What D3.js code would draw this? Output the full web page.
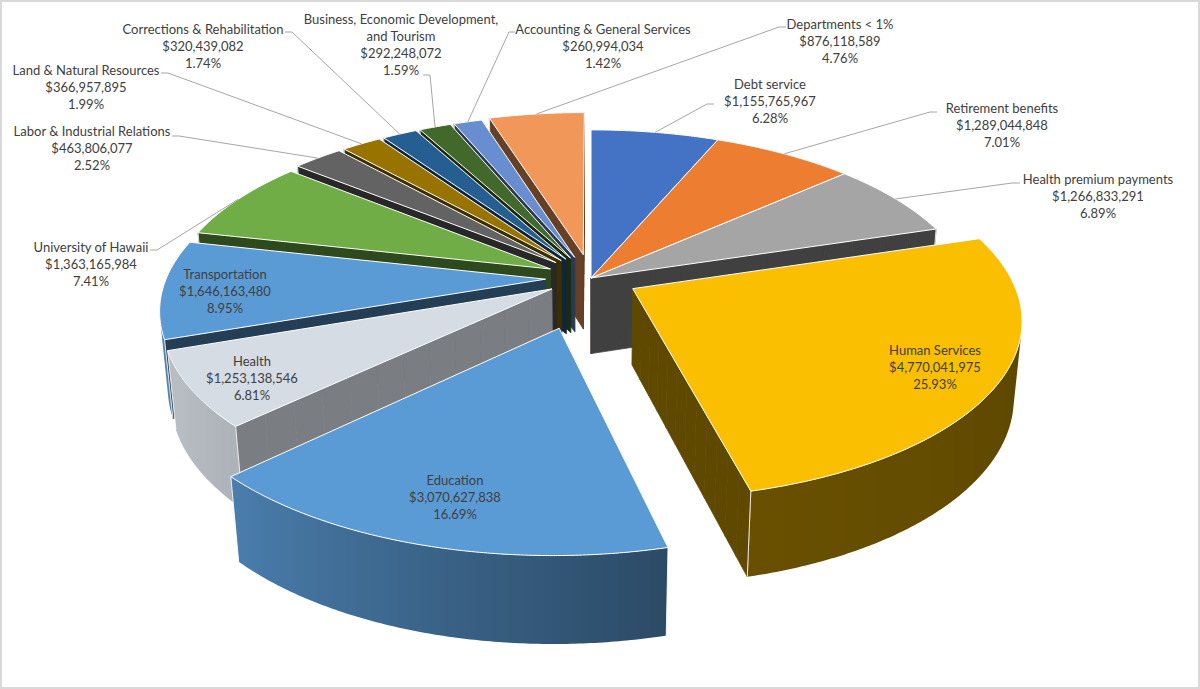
<!DOCTYPE html>
<html><head><meta charset="utf-8">
<script src="https://cdn.jsdelivr.net/npm/d3@7"></script>
<style>body{margin:0;background:#fff}svg{display:block}</style>
</head><body>
<svg id="chart" width="1200" height="689"></svg>
<script>
// ---------- data ----------
const categories = ["Debt service","Retirement benefits","Health premium payments","Human Services","Education","Health","Transportation","University of Hawaii","Labor & Industrial Relations","Land & Natural Resources","Corrections & Rehabilitation","Business, Economic Development, and Tourism","Accounting & General Services","Departments < 1%"];
const amounts = [1155765967,1289044848,1266833291,4770041975,3070627838,1253138546,1646163480,1363165984,463806077,366957895,320439082,292248072,260994034,876118589];
const colors = ["#4472C4","#ED7D31","#A5A5A5","#FABF00","#5B9BD5","#D6DCE4","#5B9BD5","#70AD47","#636363","#997300","#255E91","#43682B","#698ED0","#F1975A"];

// ---------- layout ----------
const explode = [0,0,0,0.125,0.29,0.12,0.12,0.12,0.13,0.13,0.13,0.13,0.13,0.14];
const radialTone = [0.4,0.4,0.39,0.38,0.4,0.57,0.4,0.42,0.4,0.4,0.4,0.4,0.4,0.42];
const sideToneOverride = {3: {domain:[0,100,166,360], range:[0.37,0.37,0.42,0.42]}};
const labelLayout = [
  {x:770,y:84,attach:[714,104],elbow:[707,104]},
  {x:1002,y:108,attach:[937,112],elbow:[930,112]},
  {x:1098,y:179,attach:[1020,183],elbow:[1012,183]},
  {x:935,y:350,inside:true},
  {x:455,y:480,inside:true},
  {x:252,y:361,inside:true},
  {x:225,y:274,inside:true},
  {x:91,y:247,attach:[150,250],elbow:[157,250]},
  {x:92,y:131,attach:[172,136],elbow:[179,136]},
  {x:86,y:70,attach:[161,73],elbow:[168,73]},
  {x:203,y:29,attach:[285,32],elbow:[292,32]},
  {x:401,y:19,attach:[423,75],elbow:[430,75]},
  {x:603,y:29,attach:[515,32],elbow:[509,32]},
  {x:840,y:24,attach:[786,27],elbow:[779,27]}
];
const view = {ox:591, oy:278, f:2085, D:5.5, elev:27, h:0.228};

// ---------- setup ----------
const svg = d3.select("#chart");
const W = 1200, H = 689;
svg.append("rect").attr("x",1).attr("y",1).attr("width",W-2).attr("height",H-2)
  .attr("fill","#fff").attr("stroke","#D9D9D9").attr("stroke-width",2);
const defs = svg.append("defs");

const pie = d3.pie().sort(null).value(d=>d);
const arcs = pie(amounts);
const total = d3.sum(amounts);
const fmtMoney = d3.format("$,");
const fmtPct = d3.format(".2%");

const ca = Math.cos(view.elev*Math.PI/180), sa = Math.sin(view.elev*Math.PI/180);
const cam = [0, -view.D*ca, view.D*sa];
function project(p){
  const depth = view.D + p[1]*ca - p[2]*sa;
  const up = p[1]*sa + p[2]*ca;
  return [view.ox + view.f*p[0]/depth, view.oy - view.f*up/depth];
}
const dist = p => Math.hypot(p[0]-cam[0], p[1]-cam[1], p[2]-cam[2]);
const visible = (n,c) => n[0]*(cam[0]-c[0]) + n[1]*(cam[1]-c[1]) + n[2]*(cam[2]-c[2]) > 0;
const defaultTone = d3.scaleLinear().domain([0,100,166,226,245,360]).range([0.36,0.36,0.48,0.81,0.86,0.86]).clamp(true);
const toneFor = i => sideToneOverride[i] ? d3.scaleLinear().domain(sideToneOverride[i].domain).range(sideToneOverride[i].range).clamp(true) : defaultTone;
const shade = (c,k) => { const r = d3.rgb(c); return d3.rgb(r.r*k, r.g*k, r.b*k).formatHex(); };
const line = d3.line();
const h = view.h;
const DEG = Math.PI/180;

const slices = arcs.map((a,i)=>{
  const mid = (a.startAngle+a.endAngle)/2, e = explode[i];
  return {i, a, mid, off:[e*Math.sin(mid), e*Math.cos(mid)], color:colors[i]};
});
const rimPt = (s,t,z,r=1)=>[s.off[0]+r*Math.sin(t), s.off[1]+r*Math.cos(t), z];

// ---------- side faces ----------
const pieces = [];
slices.forEach(s=>{
  const t0 = s.a.startAngle, t1 = s.a.endAngle;
  const n = Math.max(4, Math.ceil((t1-t0)/(0.5*DEG)));
  const tone = toneFor(s.i);
  const vis = [];
  for(let k=0;k<=n;k++){
    const t = t0+(t1-t0)*k/n;
    if(visible([Math.sin(t),Math.cos(t),0], rimPt(s,t,-h/2))) vis.push(t);
  }
  if(vis.length>1){
    const gid = "side"+s.i;
    // gradient stops along screen x, taking the nearest (front) part of the side for each x
    const raw = vis.map(t=>{const p=project(rimPt(s,t,-h/2)); return {x:p[0], y:p[1], tone:tone(t/DEG)};})
      .sort((a,b)=>a.x-b.x || b.y-a.y);
    const samples = [];
    raw.forEach(p=>{ if(!samples.length || p.x - samples[samples.length-1].x >= 2) samples.push(p); });
    const x0 = samples[0].x, x1 = samples[samples.length-1].x, span = Math.max(x1-x0,1);
    const g = defs.append("linearGradient").attr("id",gid).attr("gradientUnits","userSpaceOnUse")
      .attr("x1",x0).attr("x2",x0+span).attr("y1",0).attr("y2",0);
    samples.forEach(p=>g.append("stop").attr("offset",(p.x-x0)/span).attr("stop-color",shade(s.color,p.tone)));
    const top = vis.map(t=>rimPt(s,t,0)), bot = vis.map(t=>rimPt(s,t,-h)).reverse();
    const tm = vis[Math.floor(vis.length/2)];
    const edges = [];
    if(vis[0]===t0) edges.push([rimPt(s,t0,0),rimPt(s,t0,-h)]);
    if(vis[vis.length-1]===t1) edges.push([rimPt(s,t1,0),rimPt(s,t1,-h)]);
    pieces.push({pts:[...top,...bot], c:rimPt(s,tm,-h/2), fill:`url(#${gid})`, stroke:"none", edges});
  }
  [[t0,-1],[t1,1]].forEach(([t,sg])=>{
    const nrm = [sg*Math.cos(t), -sg*Math.sin(t), 0];
    const m = 12;
    for(let k=0;k<m;k++){
      const ra=k/m, rb=(k+1)/m;
      const c = rimPt(s,t,-h/2,(ra+rb)/2);
      if(!visible(nrm,c)) continue;
      const col = shade(s.color, radialTone[s.i]);
      pieces.push({pts:[rimPt(s,t,0,ra),rimPt(s,t,0,rb),rimPt(s,t,-h,rb),rimPt(s,t,-h,ra)], c,
        fill: col, stroke: col, edges: k===m-1?[[rimPt(s,t,0,1),rimPt(s,t,-h,1)]]:[]});
    }
  });
});
pieces.sort((a,b)=>dist(b.c)-dist(a.c));
const gSide = svg.append("g");
pieces.forEach(p=>{
  gSide.append("path").attr("d", line(p.pts.map(project))+"Z")
    .attr("fill",p.fill).attr("stroke",p.stroke).attr("stroke-width",0.8).attr("stroke-linejoin","round");
  p.edges.forEach(e=>gSide.append("path").attr("d",line(e.map(project)))
    .attr("stroke","#ffffff").attr("stroke-opacity",0.85).attr("stroke-width",1).attr("fill","none"));
});

// ---------- tops ----------
const gTop = svg.append("g");
slices.forEach(s=>{
  const t0 = s.a.startAngle, t1 = s.a.endAngle;
  const n = Math.max(4, Math.ceil((t1-t0)/(0.5*DEG)));
  const pts = [[s.off[0],s.off[1],0]];
  for(let k=0;k<=n;k++) pts.push(rimPt(s, t0+(t1-t0)*k/n, 0));
  gTop.append("path").attr("d", line(pts.map(project))+"Z")
    .attr("fill", s.color).attr("stroke","#ffffff").attr("stroke-width",1).attr("stroke-linejoin","round");
});

// ---------- labels ----------
const gLab = svg.append("g").attr("font-family","Lato, 'Open Sans', sans-serif").attr("font-size",13).attr("fill","#404040");
slices.forEach(s=>{
  const L = labelLayout[s.i];
  const name = categories[s.i];
  const nameLines = name.length > 32 ? name.split(/(?<=,) (?=and )/) : [name];
  const lines = [...nameLines, fmtMoney(amounts[s.i]), fmtPct(amounts[s.i]/total)];
  if(!L.inside){
    const rp = project(rimPt(s, s.mid, 0));
    svg.append("path").attr("d", line([rp, L.elbow, L.attach]))
      .attr("fill","none").attr("stroke","#A6A6A6").attr("stroke-width",1);
  }
  lines.forEach((t,j)=>{
    gLab.append("text").attr("x",L.x).attr("y",L.y+j*17).attr("text-anchor","middle")
      .attr("dominant-baseline","central").text(t);
  });
});
</script>
</body></html>
